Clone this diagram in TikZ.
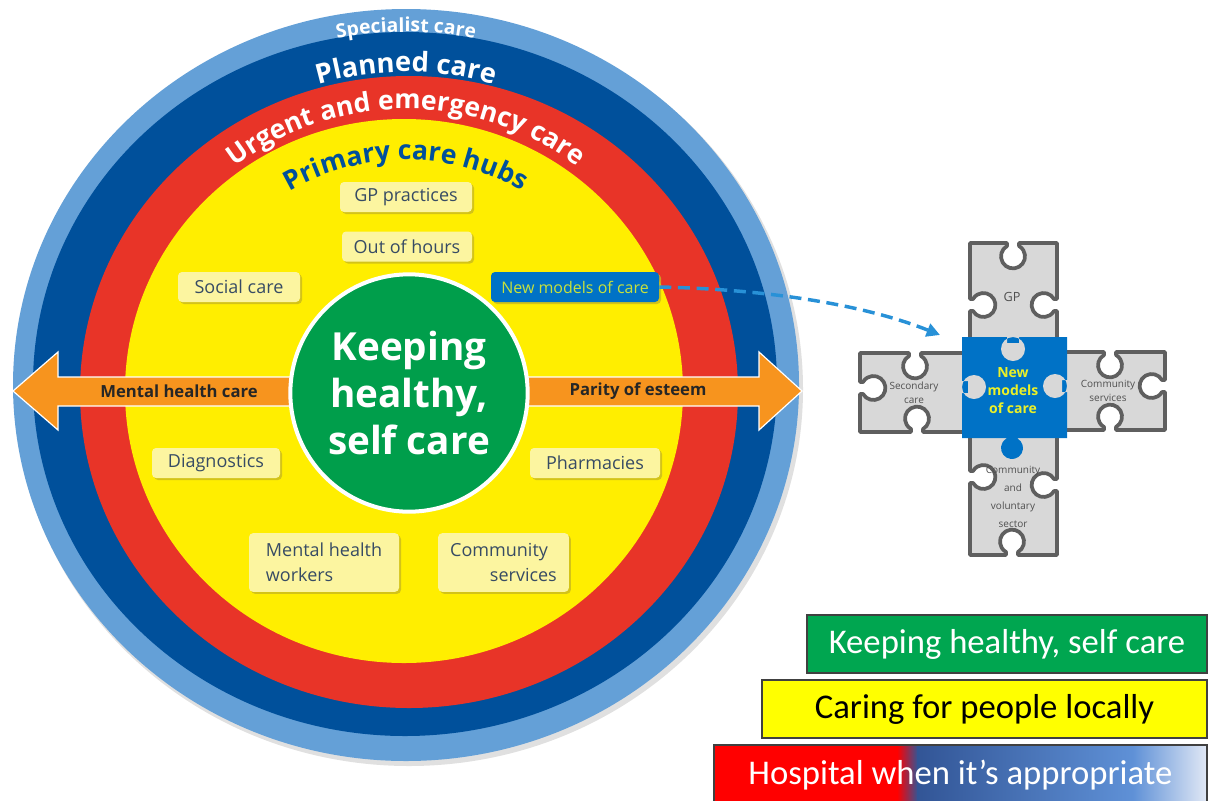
\documentclass[tikz,border=0pt]{standalone}
\usepackage{fontspec}
\setmainfont{Open Sans}
\newfontfamily\legendfont{Carlito}
\usetikzlibrary{decorations.text,shadows,arrows.meta}
\definecolor{lblue}{RGB}{100,160,215}
\definecolor{dblue}{RGB}{0,80,155}
\definecolor{ringred}{RGB}{232,52,40}
\definecolor{ringyel}{RGB}{255,238,0}
\definecolor{kgreen}{RGB}{0,158,75}
\definecolor{orng}{RGB}{247,148,30}
\definecolor{boxfill}{RGB}{252,245,160}
\definecolor{boxtext}{RGB}{55,75,100}
\definecolor{boxshadow}{RGB}{200,185,30}
\definecolor{nmblue}{RGB}{0,114,198}
\definecolor{nmtext}{RGB}{200,225,60}
\definecolor{dashblue}{RGB}{40,145,215}
\definecolor{pzgray}{RGB}{216,216,216}
\definecolor{pzedge}{RGB}{95,95,95}
\definecolor{pztext}{RGB}{80,80,80}
\definecolor{pzyel}{RGB}{235,240,40}
\definecolor{lgreen}{RGB}{0,166,80}
\definecolor{lyellow}{RGB}{255,255,0}
\definecolor{lred}{RGB}{255,0,0}
\definecolor{lnavy}{RGB}{50,85,150}
\definecolor{lsky}{RGB}{95,145,215}
\definecolor{lwhite}{RGB}{225,232,245}
\newcommand\pzTop[2]{-- ({#1-6},#2) -- ({#1-6},{#2+3}) arc[start angle=-120,end angle=-420,radius=12] -- ({#1+6},#2)}
\newcommand\pzBottom[2]{-- ({#1+6},#2) -- ({#1+6},{#2-3}) arc[start angle=60,end angle=-240,radius=12] -- ({#1-6},#2)}
\newcommand\pzLeft[2]{-- (#2,{#1+6}) -- ({#2+3},{#1+6}) arc[start angle=150,end angle=-150,radius=12] -- (#2,{#1-6})}
\newcommand\pzRight[2]{-- (#2,{#1-6}) -- ({#2-3},{#1-6}) arc[start angle=-30,end angle=-330,radius=12] -- (#2,{#1+6})}
\newcommand\pzKnob[2]{-- ({#1+5.5},#2) -- ({#1+5.5},{#2+0.5}) arc[start angle=-60,end angle=240,radius=11] -- ({#1-5.5},#2)}
\begin{document}
\begin{tikzpicture}[x=0.75pt,y=-0.75pt,
  pbox/.style={fill=boxfill, rounded corners=3pt, text=boxtext, font=\fontsize{13.5}{18.5}\selectfont, inner sep=0pt, minimum height=22.5pt, drop shadow={shadow xshift=1.5pt,shadow yshift=-1.5pt,fill=boxshadow,opacity=0.8}},
  pzpiece/.style={fill=pzgray, draw=pzedge, line width=2.8pt, line join=round},
  pztxt/.style={text=pztext, align=center, font=\fontsize{7.5}{10.5}\selectfont, inner sep=0pt},
  legbox/.style={draw=black!75, line width=1.2pt, minimum height=43.5pt, inner sep=0pt, font=\legendfont\fontsize{26}{30}\selectfont},
  arrlabel/.style={font=\fontsize{12.5}{15}\selectfont\bfseries, text=black!85, inner sep=0pt}
]
\useasboundingbox (0,0) rectangle (1212,800);
% rings
\fill[black,opacity=0.12] (409,389) ellipse[x radius=394,y radius=377];
\fill[lblue] (406,385) ellipse[x radius=393,y radius=376];
\fill[dblue] (405,384) ellipse[x radius=372,y radius=352];
\fill[ringred] (409,392) ellipse[x radius=329,y radius=316];
\fill[ringyel] (404,391) ellipse[x radius=279,y radius=272];
% ring texts
\path[decorate,decoration={text along path,text align=center,text={|\fontsize{14.5}{17}\selectfont\bfseries\color{white}|Specialist care}}]
  (406,392) ++(-150:360) arc[start angle=-150,end angle=-30,radius=360];
\path[decorate,decoration={text along path,text align=center,text={|\fontsize{20.5}{24}\selectfont\bfseries\color{white}|Planned care}}]
  (406,392) ++(-160:320) arc[start angle=-160,end angle=-20,radius=320];
\path[decorate,decoration={text along path,text align=center,text={|\fontsize{20}{24}\selectfont\bfseries\color{white}|Urgent and emergency care}}]
  (406,392) ++(-170:283) arc[start angle=-170,end angle=-10,radius=283];
\path[decorate,decoration={text along path,text align=center,text={|\fontsize{20}{24}\selectfont\bfseries\color{dblue}|Primary care hubs}}]
  (406,392) ++(-170:232) arc[start angle=-170,end angle=-10,radius=232];
% orange double arrow
\draw[fill=orng,draw=white,line width=0.9pt] (13,391) -- (58,352) -- (58,377) -- (759,377) -- (759,352) -- (802,391) -- (759,430) -- (759,406) -- (58,406) -- (58,430) -- cycle;
\node[arrlabel] (mhc) at (179,391) {Mental health care};
\node[arrlabel] (poe) at (638,391) {Parity of esteem};
% centre
\node[circle,fill=kgreen,draw=white,line width=3pt,minimum size=178pt,inner sep=0pt,align=center,text=white,font=\fontsize{29}{35}\selectfont\bfseries] (core) at (409,393) {Keeping\\healthy,\\self care};
% boxes
\node[pbox,minimum width=99pt] (gp) at (406,197) {GP practices};
\node[pbox,minimum width=97.5pt] (ooh) at (407,246.5) {Out of hours};
\node[pbox,minimum width=91.5pt] (soc) at (239,287) {Social care};
\node[pbox,minimum width=96pt] (diag) at (216,463) {Diagnostics};
\node[pbox,minimum width=97.5pt] (pharm) at (595,463) {Pharmacies};
\node[pbox,minimum width=112.5pt,minimum height=44pt,align=left] (mhw) at (324,562.5) {Mental health\\workers};
\node[pbox,minimum width=98pt,minimum height=44pt,text width=80pt,align=left] (cs) at (503.5,562.5) {Community\\\hspace*{0pt plus 1fill}services};
\node[pbox,fill=nmblue,text=nmtext,font=\fontsize{12}{14}\selectfont,minimum width=126pt] (nmc) at (575,287) {New models of care};
% puzzle
\draw[pzpiece] (970,340) \pzLeft{305}{970} -- (970,243) \pzTop{1013}{243} -- (1057,243) \pzRight{305}{1057} -- (1057,340) -- cycle;
\draw[pzpiece] (860,432) \pzLeft{388}{860} -- (860,353) \pzTop{915}{353} -- (966,353) -- (966,432) \pzBottom{917}{432} -- cycle;
\draw[pzpiece] (1064,352) \pzTop{1110}{352} -- (1165,352) \pzRight{386}{1165} -- (1165,430) \pzBottom{1110}{430} -- (1064,430) -- cycle;
\draw[pzpiece] (970,555) \pzLeft{477}{970} -- (970,435) -- (1057,435) \pzRight{485}{1057} -- (1057,555) \pzBottom{1012}{555} -- cycle;
\fill[nmblue] (962,337) -- (1067,337) -- (1067,438) \pzKnob{1012}{438} -- (962,438) -- cycle;
\fill[pzgray] (1007,334) rectangle (1019,343) (1013,349) circle[radius=12];
\fill[pzgray] (960,381) rectangle (968,393) (974,387) circle[radius=12];
\fill[pzgray] (1062,380) rectangle (1069,392) (1055,386) circle[radius=12];
\node[pztxt,font=\fontsize{9.5}{11}\selectfont] (tgp) at (1012,297) {GP};
\node[pztxt] (tsec) at (914,393) {Secondary\\care};
\node[pztxt] (tcs) at (1108,391) {Community\\services};
\node[pztxt,font=\fontsize{7.5}{13.5}\selectfont] (tcv) at (1013,497) {Community\\and\\voluntary\\sector};
\node[align=center,inner sep=0pt,text=pzyel,font=\fontsize{10.5}{13.5}\selectfont\bfseries] (tnm) at (1013,391) {New\\models\\of care};
% dashed connector
\coordinate (pztip) at (940,335);
\draw[dashblue,line width=2.6pt,dash pattern=on 9pt off 5pt,-{Triangle[length=10pt,width=10pt]}] (nmc.east) .. controls (760,289) and (860,303) .. (pztip);
% legend
\node[legbox,fill=lgreen,text=white,minimum width=300pt] (lg1) at (1007,644) {Keeping healthy, self care};
\node[legbox,fill=lyellow,text=black,minimum width=333.75pt] (lg2) at (984.5,709) {Caring for people locally};
\fill[lred] (714,745) rectangle (898,805);
\shade[left color=lred,right color=lnavy] (897,745) rectangle (918,805);
\shade[left color=lnavy,right color=lsky] (917,745) rectangle (1134,805);
\shade[left color=lsky,right color=lwhite] (1133,745) rectangle (1207,805);
\node[legbox,text=white,minimum width=369.75pt,minimum height=45pt] (lg3) at (960.5,775) {Hospital when it’s appropriate};
\end{tikzpicture}
\end{document}
